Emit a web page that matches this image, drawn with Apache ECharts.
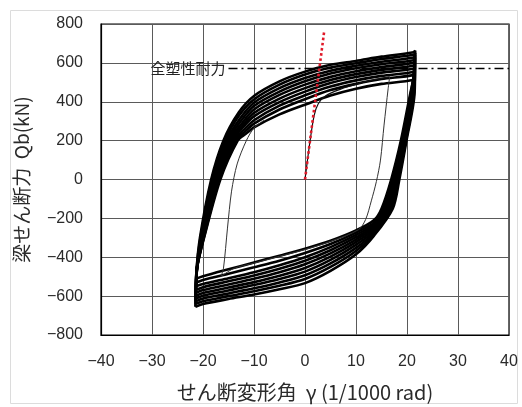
<!DOCTYPE html>
<html><head><meta charset="utf-8">
<script src="https://cdn.jsdelivr.net/npm/echarts@6/dist/echarts.min.js"></script>
<style>html,body{margin:0;padding:0;background:#fff}#c{width:522px;height:407px}</style>
</head><body><div id="c"></div>
<script>
// axis ranges
const xAxisRange = [-40, 40, 10];
const yAxisRange = [-800, 800, 200];
const fullPlasticStrength = 570;
const fullPlasticStartX = -15;
const fullPlasticLabel = '全塑性耐力';
const xName = 'せん断変形角  γ (1/1000 rad)';
const yName = '梁せん断力  Qb(kN)';

// elastic stiffness line (red dotted)
const elasticLine = [[0, 0], [3.8, 770]];
// initial loading & first (smaller) cycle
const initialLoading = [[0,0],[1.0,200],[1.8,330],[2.6,390],[4,430],[7,465],[10,490],[13,510],[16.6,528]];
const firstCycle = [[16.6,528],[16.3,467],[15.5,280],[14.8,100],[14.0,-10],[13.0,-110],[11.9,-205],[10.5,-258],[5,-318],[0,-360],[-5,-395],[-10,-430],[-14,-458],[-16.5,-500],[-16.0,-460],[-15.2,-250],[-14.4,-60],[-13.3,80],[-11.5,200],[-10,265],[-8,305]];

// reloading (upper) branches of the ±21 cycles
const upper0 = [[-21.5,-655],[-21.3,-480],[-20.6,-300],[-18.4,0],[-16.0,200],[-13.0,345],[-10,430],[-5,505],[0,555],[5,590],[10,610],[15,632],[21.3,655],[21.6,664]];
const upper1 = [[-21.45,-640],[-21.3,-475],[-20.5,-300],[-18.2,0],[-15.7,200],[-12.9,330],[-10,412],[-5,488],[0,540],[5,576],[10,598],[15,620],[21.3,642],[21.6,652]];
const upper2 = [[-21.45,-627],[-21.25,-470],[-20.4,-300],[-18.0,0],[-15.4,200],[-12.7,315],[-10,395],[-5,470],[0,522],[5,560],[10,585],[15,606],[21.3,628],[21.55,640]];
const upper3 = [[-21.4,-612],[-21.2,-468],[-20.3,-300],[-17.8,0],[-15.1,200],[-12.6,300],[-10,378],[-5,452],[0,505],[5,545],[10,572],[15,593],[21.3,614],[21.55,626]];
const upper4 = [[-21.4,-598],[-21.2,-462],[-20.2,-300],[-17.6,0],[-14.8,200],[-12.4,288],[-10,360],[-5,435],[0,488],[5,528],[10,557],[15,578],[21.25,600],[21.5,612]];
const upper5 = [[-21.4,-583],[-21.2,-458],[-20.1,-300],[-17.4,0],[-14.5,200],[-12.3,276],[-10,342],[-5,416],[0,470],[5,512],[10,542],[15,564],[21.25,585],[21.5,598]];
const upper6 = [[-21.35,-568],[-21.15,-455],[-20.0,-300],[-17.2,0],[-14.2,200],[-12.2,268],[-10,325],[-5,398],[0,452],[5,496],[10,527],[15,550],[21.2,570],[21.5,584]];
const upper7 = [[-21.35,-550],[-21.15,-450],[-19.9,-300],[-17.0,0],[-13.9,200],[-12.0,255],[-10,305],[-5,380],[0,433],[5,478],[10,510],[15,533],[21.2,553],[21.45,568]];
const upper8 = [[-21.3,-530],[-21.1,-445],[-19.85,-300],[-16.8,0],[-13.6,200],[-11.8,245],[-10,287],[-5,360],[0,413],[5,460],[10,492],[15,517],[21.2,537],[21.45,552]];
const upper9 = [[-21.3,-510],[-21.1,-440],[-19.8,-300],[-16.6,0],[-13.2,200],[-11.6,235],[-10,268],[-5,335],[0,385],[5,432],[10,467],[15,492],[21.15,512],[21.4,530]];

// unloading (lower) branches
const lower0 = [[21.6,664],[21.5,450],[19.9,200],[18.5,0],[17.2,-150],[13.5,-290],[10,-385],[5,-470],[0,-533],[-5,-565],[-10,-592],[-15,-615],[-20,-640],[-21.5,-655]];
const lower1 = [[21.6,652],[21.4,450],[19.8,200],[18.3,0],[17.0,-150],[13.5,-282],[10,-368],[5,-450],[0,-512],[-5,-547],[-10,-575],[-15,-600],[-20,-626],[-21.45,-640]];
const lower2 = [[21.55,640],[21.3,450],[19.7,200],[18.2,0],[16.8,-150],[13.5,-274],[10,-352],[5,-432],[0,-493],[-5,-530],[-10,-560],[-15,-586],[-20,-612],[-21.45,-627]];
const lower3 = [[21.55,626],[21.2,450],[19.6,200],[18.0,0],[16.5,-150],[13.5,-265],[10,-336],[5,-414],[0,-474],[-5,-512],[-10,-543],[-15,-571],[-20,-598],[-21.4,-612]];
const lower4 = [[21.5,612],[21.1,450],[19.5,200],[17.8,0],[16.3,-150],[13.5,-257],[10,-322],[5,-397],[0,-455],[-5,-495],[-10,-528],[-15,-556],[-20,-584],[-21.4,-598]];
const lower5 = [[21.5,598],[21.0,450],[19.4,200],[17.6,0],[16.0,-150],[13.5,-248],[10,-309],[5,-380],[0,-436],[-5,-477],[-10,-511],[-15,-540],[-20,-569],[-21.4,-583]];
const lower6 = [[21.5,584],[20.95,450],[19.3,200],[17.5,0],[15.8,-150],[13.5,-240],[10,-297],[5,-364],[0,-418],[-5,-459],[-10,-494],[-15,-524],[-20,-554],[-21.35,-568]];
const lower7 = [[21.45,568],[20.9,450],[19.1,200],[17.3,0],[15.6,-150],[13.5,-232],[10,-285],[5,-348],[0,-400],[-5,-441],[-10,-477],[-15,-508],[-20,-538],[-21.35,-550]];
const lower8 = [[21.45,552],[20.8,450],[19.0,200],[17.1,0],[15.3,-150],[13.5,-222],[10,-273],[5,-332],[0,-378],[-5,-418],[-10,-452],[-15,-485],[-20,-517],[-21.3,-530]];
const lower9 = [[21.4,530],[20.7,450],[18.8,200],[16.9,0],[15.0,-150],[13.5,-210],[10,-262],[5,-315],[0,-356],[-5,-392],[-10,-427],[-15,-462],[-20,-498],[-21.3,-510]];

const upperBranches = [upper0,upper1,upper2,upper3,upper4,upper5,upper6,upper7,upper8,upper9];
const lowerBranches = [lower0,lower1,lower2,lower3,lower4,lower5,lower6,lower7,lower8,lower9];

const latin = '"Liberation Sans", Arial, sans-serif';
const cjk = '"Noto Sans CJK JP", "Liberation Sans", sans-serif';
const minusFmt = v => String(v).replace('-', '\u2212');

const series = [];
function branch(data, w, color) {
  series.push({type:'line', data, smooth:0.3, showSymbol:false, symbol:'none',
    lineStyle:{color, width:w}, silent:true, animation:false, z:3});
}
upperBranches.forEach(d => branch(d, 2.6, '#000'));
lowerBranches.forEach(d => branch(d, 2.6, '#000'));
branch(initialLoading, 1.2, '#111');
branch(firstCycle, 1.0, '#333');

// full plastic strength reference line with its label
series.push({type:'line', data:[], showSymbol:false, animation:false,
  markLine:{silent:true, symbol:['none','none'], animation:false,
    lineStyle:{color:'#000', width:1.3, type:[9,4,2,4]},
    label:{show:true, position:'start', distance:3, formatter:fullPlasticLabel,
      fontFamily:cjk, fontSize:15, color:'#222'},
    data:[[{coord:[fullPlasticStartX, fullPlasticStrength]},{coord:[xAxisRange[1], fullPlasticStrength]}]]},
  z:4});

series.push({type:'line', data:elasticLine, showSymbol:false, symbol:'none',
  lineStyle:{color:'#e01828', width:2.6, type:'dotted'}, animation:false, z:5});

const chart = echarts.init(document.getElementById('c'), null, {renderer:'canvas'});
chart.setOption({
  backgroundColor:'#fff',
  animation:false,
  graphic:[{type:'rect', shape:{x:10.5,y:10.5,width:507,height:393}, style:{fill:'none', stroke:'#dcdcdc', lineWidth:1}, silent:true, z:-1}],
  grid:{left:101, right:13, top:24, bottom:68, show:true, borderColor:'#000', borderWidth:1.2},
  xAxis:{type:'value', min:xAxisRange[0], max:xAxisRange[1], interval:xAxisRange[2],
    axisLine:{show:true, onZero:false, lineStyle:{color:'#000', width:1.2}},
    axisTick:{show:false},
    splitLine:{show:true, lineStyle:{color:'#5a5a5a', width:1}},
    axisLabel:{fontSize:16, color:'#2a2a2a', fontFamily:latin, margin:19, formatter:minusFmt},
    name:xName, nameLocation:'middle', nameGap:47,
    nameTextStyle:{fontSize:20, color:'#2a2a2a', fontFamily:cjk}},
  yAxis:{type:'value', min:yAxisRange[0], max:yAxisRange[1], interval:yAxisRange[2],
    axisLine:{show:true, onZero:false, lineStyle:{color:'#000', width:1.2}},
    axisTick:{show:false},
    splitLine:{show:true, lineStyle:{color:'#5a5a5a', width:1}},
    axisLabel:{fontSize:16, color:'#2a2a2a', fontFamily:latin, margin:18, formatter:minusFmt},
    name:yName, nameLocation:'middle', nameGap:70, nameRotate:90,
    nameTextStyle:{fontSize:19, color:'#2a2a2a', fontFamily:cjk}},
  series
});
</script></body></html>
